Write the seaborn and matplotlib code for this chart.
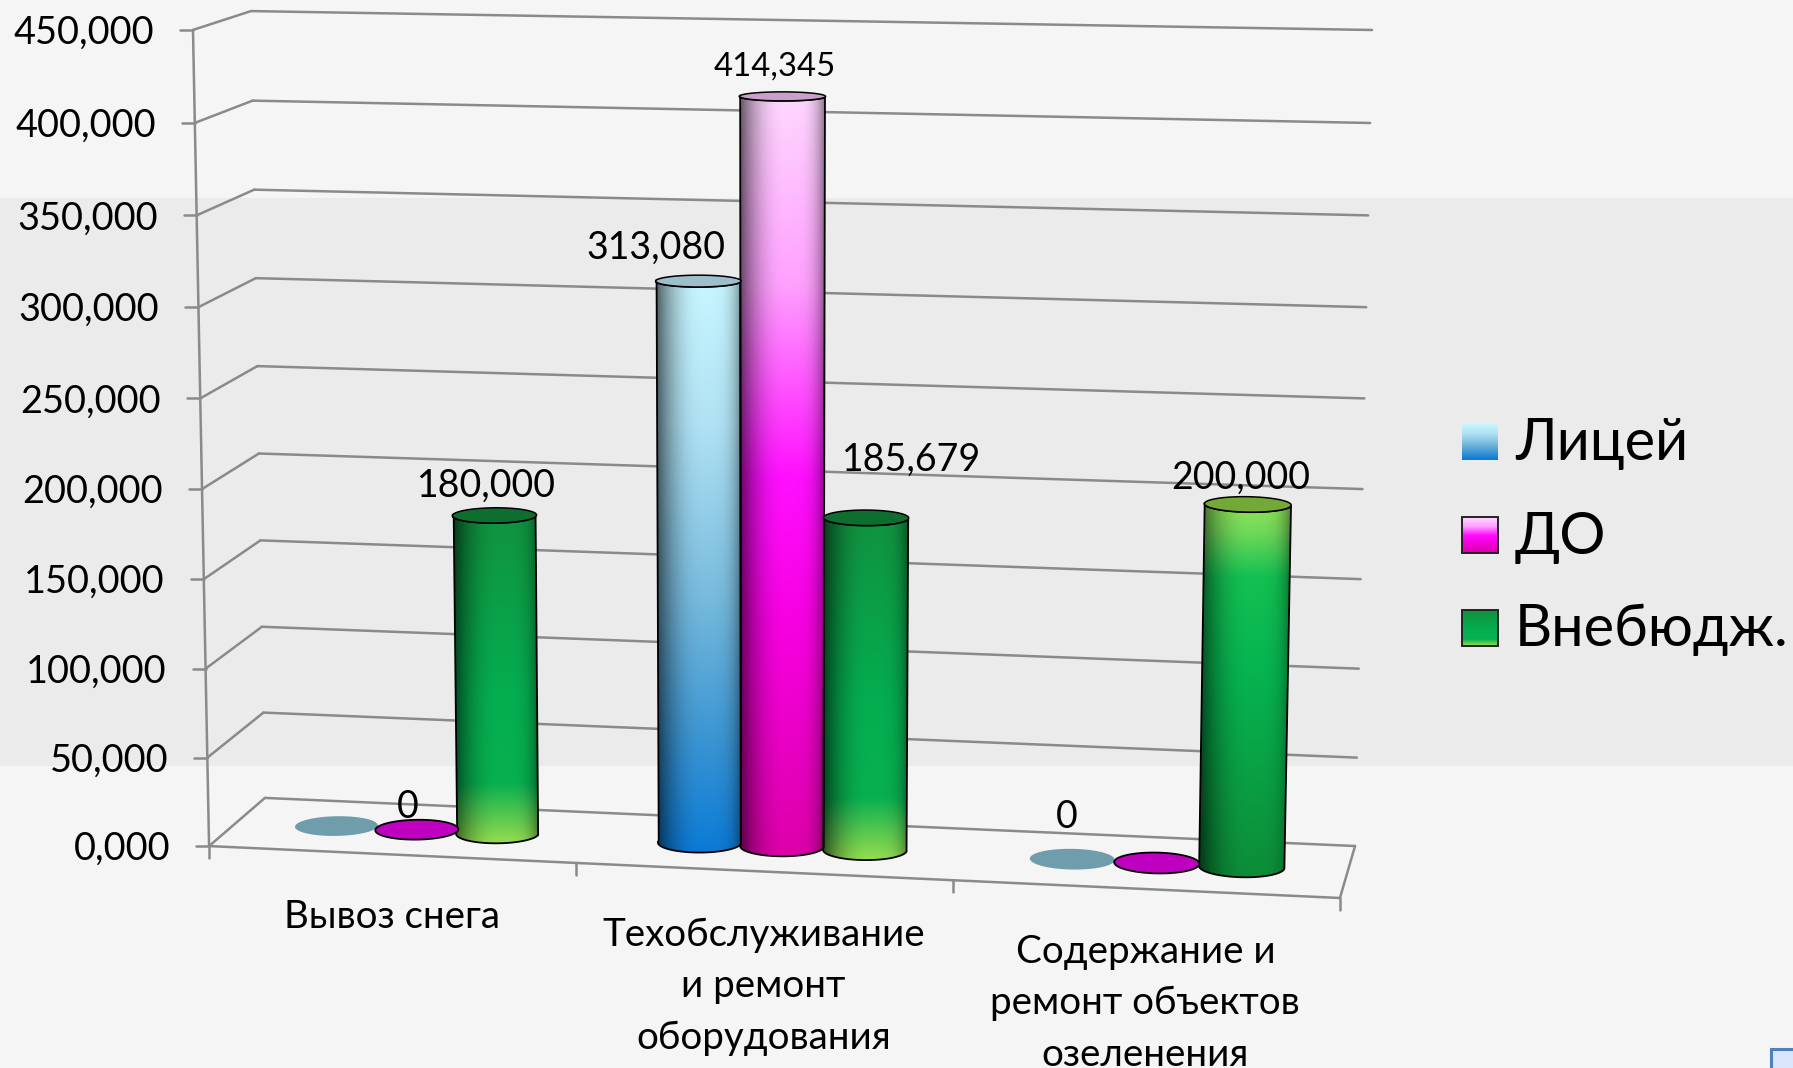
# Cylinder chart in a 3D box, bar sizes come from seaborn, then get projected
import numpy as np
import pandas as pd
import matplotlib
matplotlib.use("Agg")
import matplotlib.pyplot as plt
import seaborn as sns
from matplotlib.colors import to_rgb
from matplotlib.patches import Polygon, Rectangle

categories = ["Вывоз снега", "Техобслуживание\nи ремонт\nоборудования", "Содержание и\nремонт объектов\nозеленения"]
series = ["Лицей", "ДО", "Внебюдж."]
licei = [0, 313080, 0]
dop = [0, 414345, 0]
vneb = [180000, 185679, 200000]
y_ticks = [0, 50000, 100000, 150000, 200000, 250000, 300000, 350000, 400000, 450000]
y_max = 450000

W, H = 1793, 1068
sns.set_theme(style="white")
plt.rcParams["font.family"] = ["Lato", "Noto Sans", "DejaVu Sans"]

fig = plt.figure(figsize=(W / 100, H / 100), dpi=100, facecolor="#f5f5f5")
ax = fig.add_axes([0, 0, 1, 1])
ax.set_xlim(0, W)
ax.set_ylim(H, 0)
ax.axis("off")
ax.axhspan(198, 766, color="#ebebeb", lw=0, zorder=0)

# Step 1: camera for the box, fitted on its corners (x 0-3, depth 0-1, value 0-1)
corners = [
    ((0, 1, 0), (265, 798)), ((0, 1, 1), (251, 11)),
    ((3, 1, 0), (1355, 846)), ((3, 1, 1), (1372, 30)),
    ((0, 0, 0), (209, 846)), ((0, 0, 1), (193, 30)),
    ((3, 0, 0), (1340, 898)),
]
rows = []
for (a, b, c), (u, v) in corners:
    rows.append([a, b, c, 1, 0, 0, 0, 0, -u * a, -u * b, -u * c, -u])
    rows.append([0, 0, 0, 0, a, b, c, 1, -v * a, -v * b, -v * c, -v])
cam = np.linalg.svd(np.array(rows, dtype=float))[2][-1].reshape(3, 4)


def proj(x, d, val):
    x, d, val = np.broadcast_arrays(x, d, np.asarray(val, dtype=float) / y_max)
    p = cam @ np.stack([x, d, val, np.ones_like(x, dtype=float)])
    return p[0] / p[2], p[1] / p[2]


def seg(a, b):
    ax.plot([a[0], b[0]], [a[1], b[1]], color="#8a8a8a", lw=1.8, zorder=2, solid_capstyle="round")


# Step 2: walls, floor and axis
for t in y_ticks:
    fl = proj(0, 0, t)
    bl = proj(0, 1, t)
    br = proj(3, 1, t)
    seg(bl, br)
    seg(fl, bl)
    seg((fl[0] - 13, fl[1]), fl)
    ax.text(fl[0] - 39, fl[1] + 3, f"{t // 1000},000", ha="right", va="center", fontsize=27.3, color="black", zorder=6)
seg(proj(0, 0, 0), proj(0, 0, y_max))
seg(proj(0, 0, 0), proj(3, 0, 0))
seg(proj(3, 0, 0), proj(3, 1, 0))
for k in range(4):
    p = proj(k, 0, 0)
    seg(p, (p[0], p[1] + 12))

label_y = [899, 917, 934]
for k, cat in enumerate(categories):
    p = proj(k + 0.5, 0, 0)
    ax.text(p[0], label_y[k], cat, ha="center", va="top", fontsize=27.7, color="black", linespacing=1.53, zorder=6)

# Step 3: seaborn works out the bar slots
df = pd.DataFrame({
    "category": categories * 3,
    "series": [s for s in series for _ in categories],
    "value": licei + dop + vneb,
})
bar_ax = fig.add_axes([0, 0, 1, 1])
sns.barplot(data=df, x="category", y="value", hue="series", hue_order=series, order=categories,
            width=0.67, gap=0, legend=False, ax=bar_ax)
bar_ax.set_visible(False)

stops = {
    "Лицей": [(0, "#c8f6ff"), (0.25, "#b0e2f4"), (0.55, "#78bbdd"), (0.8, "#3b95d2"), (1, "#0a7ad6")],
    "ДО": [(0, "#ffd8ff"), (0.25, "#ffa0ff"), (0.5, "#ff10ff"), (0.7, "#f600e0"), (1, "#dc00a8")],
    "Внебюдж.": [(0, "#119240"), (0.55, "#04ae50"), (0.82, "#08b050"), (1, "#96dc50")],
    "up": [(0, "#94e45a"), (0.08, "#70d858"), (0.2, "#12c052"), (0.45, "#06b450"), (1, "#0d8c38")],
}
caps = {"Лицей": "#9dbfcc", "ДО": "#c9a0cc", "Внебюдж.": "#0e6e30", "up": "#74a838"}
flat = {"Лицей": "#6f9dab", "ДО": "#c000c0"}
r_depth = 0.2


def ramp(name, n):
    pos = [s[0] for s in stops[name]]
    rgb = np.array([to_rgb(s[1]) for s in stops[name]])
    t = np.linspace(0, 1, n)
    return np.stack([np.interp(t, pos, rgb[:, i]) for i in range(3)], axis=1)


def cylinder(cx, half, value, key):
    t = np.linspace(np.pi, 2 * np.pi, 60)
    xs = cx + half * np.cos(t)
    ds = 0.5 + r_depth * np.sin(t)
    bx, by = proj(xs, ds, 0)
    tx, ty = proj(xs, ds, value)
    body = np.column_stack([np.r_[bx, tx[::-1]], np.r_[by, ty[::-1]]])
    x0, x1, y0, y1 = body[:, 0].min(), body[:, 0].max(), body[:, 1].min(), body[:, 1].max()
    nx, ny = int(x1 - x0) + 2, int(y1 - y0) + 2
    u = np.linspace(-1, 1, nx)
    # dark wide band on the left side, thin one on the right
    shade = np.where(u < 0.1, 1 - 0.62 * ((0.1 - u) / 1.1) ** 2.2, 1 - 0.45 * ((u - 0.1) / 0.9) ** 4)
    img = ramp(key, ny)[:, None, :] * shade[None, :, None]
    im = ax.imshow(img, extent=[x0, x1, y1, y0], aspect="auto", zorder=3, interpolation="bilinear")
    poly = Polygon(body, closed=True, fc="none", ec="black", lw=1.3, zorder=3.2, joinstyle="round")
    ax.add_patch(poly)
    im.set_clip_path(poly)
    t2 = np.linspace(0, 2 * np.pi, 120)
    cap = np.column_stack(proj(cx + half * np.cos(t2), 0.5 + r_depth * np.sin(t2), value))
    ax.add_patch(Polygon(cap, closed=True, fc=caps[key], ec="black", lw=1.1, zorder=3.4))


def disc(cx, half, name):
    t2 = np.linspace(0, 2 * np.pi, 120)
    pts = np.column_stack(proj(cx + half * np.cos(t2), 0.5 + r_depth * np.sin(t2), 0))
    ec = "black" if name == "ДО" else "none"
    ax.add_patch(Polygon(pts, closed=True, fc=flat[name], ec=ec, lw=1.3, zorder=3.4))


# Step 4: project every seaborn bar, value labels are moved by hand like in the original
offsets = {
    (0, 1): (-9, -23), (0, 2): (-8, -30), (1, 0): (-42, -33), (1, 1): (-8, -30),
    (1, 2): (46, -58), (2, 0): (-5, -42), (2, 2): (-7, -27),
}
for s_i, (name, bars) in enumerate(zip(series, bar_ax.containers)):
    for c_i, bar in enumerate(bars):
        value = bar.get_height()
        half = bar.get_width() / 2
        cx = bar.get_x() + half + 0.5
        key = "up" if name == "Внебюдж." and c_i == 2 else name
        if value > 0:
            cylinder(cx, half, value, key)
        else:
            disc(cx, half, name)
        if (c_i, s_i) in offsets:
            p = proj(cx, 0.5, value)
            dx, dy = offsets[(c_i, s_i)]
            txt = f"{value:,.0f}" if value else "0"
            size = 23.7 if (c_i, s_i) == (1, 1) else 27
            ax.text(p[0] + dx, p[1] + dy, txt, ha="center", va="center", fontsize=size, color="black", zorder=6)

# Step 5: legend by hand
leg_y = [442, 535, 628]
for name, y in zip(series, leg_y):
    img = ramp(name, 36)[:, None, :]
    ax.imshow(img, extent=[1462, 1498, y + 18, y - 18], aspect="auto", zorder=5)
    if name != "Лицей":
        ax.add_patch(Rectangle((1462, y - 18), 36, 36, fc="none", ec="#222222", lw=1.4, zorder=5.1))
    ax.text(1515, y + 2, name, ha="left", va="center", fontsize=41.5, color="black", zorder=6)

# little resize handle in the corner of the screenshot
ax.add_patch(Rectangle((1771, 1049), 40, 40, fc="#dbe6fc", ec="#4f81bd", lw=2.2, zorder=7))

ax.set_xlim(0, W)
ax.set_ylim(H, 0)
fig.savefig("out.png", dpi=100, facecolor=fig.get_facecolor())
